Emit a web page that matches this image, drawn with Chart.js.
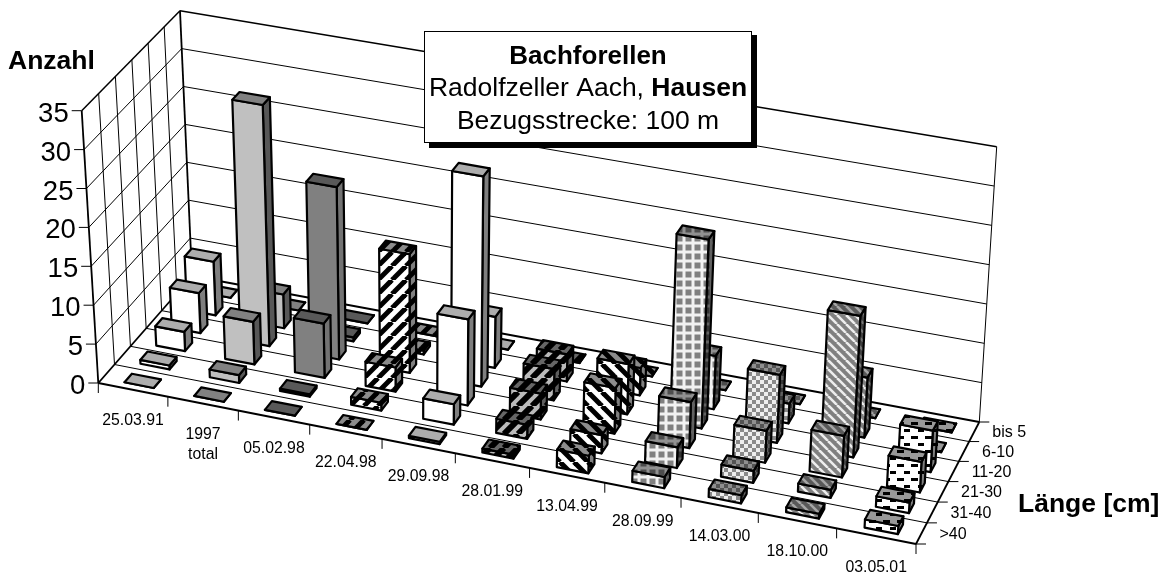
<!DOCTYPE html>
<html>
<head>
<meta charset="utf-8">
<title>Bachforellen</title>
<style>
  html, body { margin: 0; padding: 0; background: #fff; }
  canvas { display: block; }
</style>
<script src="https://cdn.jsdelivr.net/npm/chart.js@4"></script>
</head>
<body>
<canvas id="chart3d" width="1167" height="573"></canvas>
<script>
// Daten
var dates = ['25.03.91', '1997|total', '05.02.98', '22.04.98', '29.09.98', '28.01.99', '13.04.99', '28.09.99', '14.03.00', '18.10.00', '03.05.01'];
var lengths = ['>40', '31-40', '21-30', '11-20', '6-10', 'bis 5'];
var over40 = [0, 0, 0, 0, 0.3, 0.5, 2.2, 1.4, 1, 0.6, 1];
var from31 = [0.5, 1, 0.3, 1, 2.6, 1.8, 2.3, 2.6, 1.5, 1, 1.3];
var from21 = [2.5, 5.5, 7, 3.1, 11, 3.3, 5.8, 5.8, 4, 5.2, 3.8];
var from11 = [5.2, 31.3, 22.3, 15.3, 27, 4, 6.4, 24, 8.6, 17.8, 5.2];
var from6 = [7, 4.4, 0.5, 0.5, 6.6, 3.5, 3.5, 6.8, 2.5, 7.6, 0];
var upTo5 = [0, 0, 0, 0, 0, 0, 0, 0, 0, 0, 0];
var rows = [over40, from31, from21, from11, from6, upTo5];

// Ecken des Diagrammraums: vorne links, vorne rechts, hinten rechts, hinten links
var floorQuad = [[98.3, 383], [916, 544], [979.3, 422], [192, 276]];
var topQuad = [[81.7, 110.7], [930, 258], [996.7, 146.7], [180, 10.7]];
var FONT = '"Liberation Sans", Arial, sans-serif';

function quadMap(q) {
  var x0 = q[0][0], y0 = q[0][1], x1 = q[1][0], y1 = q[1][1], x2 = q[2][0], y2 = q[2][1], x3 = q[3][0], y3 = q[3][1];
  var dx1 = x1 - x2, dx2 = x3 - x2, sx = x0 - x1 + x2 - x3;
  var dy1 = y1 - y2, dy2 = y3 - y2, sy = y0 - y1 + y2 - y3;
  var den = dx1 * dy2 - dx2 * dy1;
  var g = (sx * dy2 - dx2 * sy) / den, h = (dx1 * sy - sx * dy1) / den;
  var a = x1 - x0 + g * x1, b = x3 - x0 + h * x3, d = y1 - y0 + g * y1, e = y3 - y0 + h * y3;
  return function(u, w) {
    var n = g * u + h * w + 1;
    return [(a * u + b * w + x0) / n, (d * u + e * w + y0) / n];
  };
}
var floorAt = quadMap(floorQuad);
var topAt = quadMap(topQuad);

// Muster der Balken
function tile(size, paint) {
  var c = document.createElement('canvas');
  c.width = size; c.height = size;
  paint(c.getContext('2d'), size);
  return c;
}
function stripes(bg, fg, width, dir) {
  return function(g, s) {
    g.fillStyle = bg; g.fillRect(0, 0, s, s);
    g.strokeStyle = fg; g.lineWidth = width;
    for (var k = -1; k <= 1; k++) {
      g.beginPath();
      if (dir > 0) { g.moveTo(k * s, s); g.lineTo(k * s + s, 0); }
      else { g.moveTo(k * s, 0); g.lineTo(k * s + s, s); }
      g.stroke();
    }
  };
}
function plain(color) { return function(g, s) { g.fillStyle = color; g.fillRect(0, 0, s, s); }; }
function grid(g, s) {
  g.fillStyle = '#f2f2f2'; g.fillRect(0, 0, s, s);
  g.fillStyle = '#808080'; g.fillRect(1.5, 1.5, s - 3, s - 3);
}
function checker(g, s) {
  g.fillStyle = '#eee'; g.fillRect(0, 0, s, s);
  g.fillStyle = '#8a8a8a'; g.fillRect(0, 0, s / 2, s / 2); g.fillRect(s / 2, s / 2, s / 2, s / 2);
}
function dashes(g, s) {
  g.fillStyle = '#fff'; g.fillRect(0, 0, s, s);
  g.fillStyle = '#000'; g.fillRect(1, 2, 7, 3); g.fillRect(8, 9, 7, 3);
}
var tiles = [
  [8, plain('#fff')], [8, plain('#c0c0c0')], [8, plain('#808080')],
  [14, stripes('#fff', '#000', 5, 1)], [8, plain('#fff')], [14, stripes('#bbb', '#000', 6, 1)],
  [14, stripes('#fff', '#000', 5, -1)], [9, grid], [8, checker], [9, stripes('#808080', '#eee', 2.5, -1)], [14, dashes]
];
var topShade = [0.32, 0.33, 0.3, 0.45, 0.32, 0.45, 0.45, 0.4, 0.4, 0.3, 0.4];
var sideShade = [0.5, 0.55, 0.1, 0.5, 0.5, 0.5, 0.5, 0.6, 0.6, 0.5, 0.5];

function unit(scale, value) {
  var p = scale.getPixelForValue(value);
  return scale.isHorizontal() ? (p - scale.left) / scale.width : (scale.bottom - p) / scale.height;
}

function project(chart, xv, zv, yv) {
  var u = unit(chart.scales.x, xv), w = unit(chart.scales.z, zv), t = unit(chart.scales.y, yv);
  var a = floorAt(u, w), b = topAt(u, w);
  return [a[0] + (b[0] - a[0]) * t, a[1] + (b[1] - a[1]) * t];
}

function line(ctx, pts, width, color) {
  ctx.beginPath();
  ctx.moveTo(pts[0][0], pts[0][1]);
  for (var k = 1; k < pts.length; k++) ctx.lineTo(pts[k][0], pts[k][1]);
  ctx.lineWidth = width;
  ctx.strokeStyle = color || '#000';
  ctx.stroke();
}

function face(ctx, pts, pattern, shade) {
  ctx.beginPath();
  ctx.moveTo(pts[0][0], pts[0][1]);
  for (var k = 1; k < pts.length; k++) ctx.lineTo(pts[k][0], pts[k][1]);
  ctx.closePath();
  ctx.fillStyle = pattern;
  ctx.fill();
  if (shade) { ctx.fillStyle = 'rgba(0,0,0,' + shade + ')'; ctx.fill(); }
  ctx.lineWidth = 2.2;
  ctx.lineJoin = 'round';
  ctx.strokeStyle = '#000';
  ctx.stroke();
}

var walls3d = {
  id: 'walls3d',
  beforeDatasetsDraw: function(chart) {
    var ctx = chart.ctx, y = chart.scales.y;
    var xMin = -0.5, xMax = dates.length - 0.5, zMin = -0.5, zMax = lengths.length - 0.5;
    ctx.save();
    ctx.fillStyle = '#000';
    ctx.textBaseline = 'middle';

    // Wertlinien an Seiten- und Rueckwand
    y.ticks.forEach(function(tick) {
      var a = project(chart, xMin, zMin, tick.value), b = project(chart, xMin, zMax, tick.value), c = project(chart, xMax, zMax, tick.value);
      var isEdge = tick.value === y.max;
      if (tick.value > 0) {
        line(ctx, [a, b], isEdge ? 1.5 : 1);
        line(ctx, [b, c], isEdge ? 1.5 : 1);
      }
      line(ctx, [a, [a[0] - 10, a[1]]], 1);
      ctx.font = '27.5px ' + FONT;
      ctx.textAlign = 'right';
      ctx.fillText(String(tick.value), a[0] - 13, a[1] + 3.5);
    });

    // Klassenlinien auf Boden und Seitenwand
    for (var j = 0; j <= lengths.length; j++) {
      var zv = zMin + j;
      var p0 = project(chart, xMin, zv, 0), p1 = project(chart, xMax, zv, 0), p2 = project(chart, xMin, zv, y.max);
      line(ctx, [p0, p2], j === 0 || j === lengths.length ? 1.8 : 1);
      line(ctx, [p0, p1], j === 0 || j === lengths.length ? 1.8 : 1);
      line(ctx, [p1, [p1[0] + 10, p1[1]]], 1);
      if (j < lengths.length) {
        var m = project(chart, xMax, j, 0);
        ctx.font = '16px ' + FONT;
        ctx.textAlign = 'left';
        ctx.fillText(lengths[j], m[0] + 18, m[1] + 1);
      }
    }
    line(ctx, [project(chart, xMin, zMin, 0), project(chart, xMin, zMax, 0)], 1.8);
    line(ctx, [project(chart, xMax, zMin, 0), project(chart, xMax, zMax, 0)], 1.8);
    line(ctx, [project(chart, xMax, zMax, 0), project(chart, xMax, zMax, y.max)], 1);

    // Datumsachse
    for (var i = 0; i <= dates.length; i++) {
      var e = project(chart, xMin + i, zMin, 0);
      line(ctx, [e, [e[0], e[1] + 10]], 1);
      if (i < dates.length) {
        var c = project(chart, i, zMin, 0);
        ctx.font = '15.8px ' + FONT;
        ctx.textAlign = 'center';
        dates[i].split('|').forEach(function(part, n) {
          ctx.fillText(part, c[0], c[1] + 31 + n * 20);
        });
      }
    }
    ctx.restore();
  },
  afterDatasetsDraw: function(chart) {
    var ctx = chart.ctx, patterns = tiles.map(function(t) { return ctx.createPattern(tile(t[0], t[1]), 'repeat'); });
    var hw = 0.21, hd = 0.23, shift = 0.025;
    ctx.save();
    for (var k = chart.data.datasets.length - 1; k >= 0; k--) {
      chart.data.datasets[k].data.forEach(function(pt) {
        var i = pt.x, v = pt.y, xc = i + shift;
        var fl0 = project(chart, xc - hw, k - hd, 0), fr0 = project(chart, xc + hw, k - hd, 0), br0 = project(chart, xc + hw, k + hd, 0);
        var fl1 = project(chart, xc - hw, k - hd, v), fr1 = project(chart, xc + hw, k - hd, v);
        var br1 = project(chart, xc + hw, k + hd, v), bl1 = project(chart, xc - hw, k + hd, v);
        face(ctx, [fr0, br0, br1, fr1], patterns[i], sideShade[i]);
        face(ctx, [fl0, fr0, fr1, fl1], patterns[i], 0);
        face(ctx, [fl1, fr1, br1, bl1], patterns[i], topShade[i]);
      });
    }
    ctx.restore();

    // Titelkasten und Achsentitel
    ctx.save();
    ctx.fillStyle = '#000';
    ctx.fillRect(429, 35, 328, 113);
    ctx.fillStyle = '#fff';
    ctx.fillRect(424, 31, 328, 112);
    ctx.strokeStyle = '#000';
    ctx.lineWidth = 1;
    ctx.strokeRect(424.5, 31.5, 327, 111);
    ctx.fillStyle = '#000';
    ctx.textBaseline = 'middle';
    ctx.textAlign = 'center';
    ctx.font = 'bold 26px ' + FONT;
    ctx.fillText('Bachforellen', 588, 56.5);
    ctx.font = '26.5px ' + FONT;
    ctx.fillText('Bezugsstrecke: 100 m', 588, 121.5);
    var a = 'Radolfzeller Aach, ', b = 'Hausen';
    var wa = ctx.measureText(a).width;
    ctx.font = 'bold 26.5px ' + FONT;
    var wb = ctx.measureText(b).width;
    var sx = 588 - (wa + wb) / 2;
    ctx.textAlign = 'left';
    ctx.fillText(b, sx + wa, 88.5);
    ctx.font = '26.5px ' + FONT;
    ctx.fillText(a, sx, 88.5);
    ctx.font = 'bold 26.5px ' + FONT;
    ctx.fillText('Anzahl', 8, 62);
    ctx.fillText('Länge [cm]', 1018, 505);
    ctx.restore();
  }
};

new Chart(document.getElementById('chart3d').getContext('2d'), {
  type: 'scatter',
  data: {
    datasets: rows.map(function(values, k) {
      return {
        label: lengths[k],
        data: values.map(function(v, i) { return { x: i, y: v }; }),
        pointRadius: 0
      };
    })
  },
  options: {
    responsive: false,
    animation: false,
    layout: { padding: 0 },
    plugins: { legend: { display: false }, tooltip: { enabled: false } },
    scales: {
      x: { type: 'linear', display: false, min: -0.5, max: dates.length - 0.5 },
      y: { type: 'linear', display: false, min: 0, max: 35, ticks: { stepSize: 5 } },
      z: { type: 'linear', axis: 'y', display: false, min: -0.5, max: lengths.length - 0.5 }
    }
  },
  plugins: [walls3d]
});
</script>
</body>
</html>
